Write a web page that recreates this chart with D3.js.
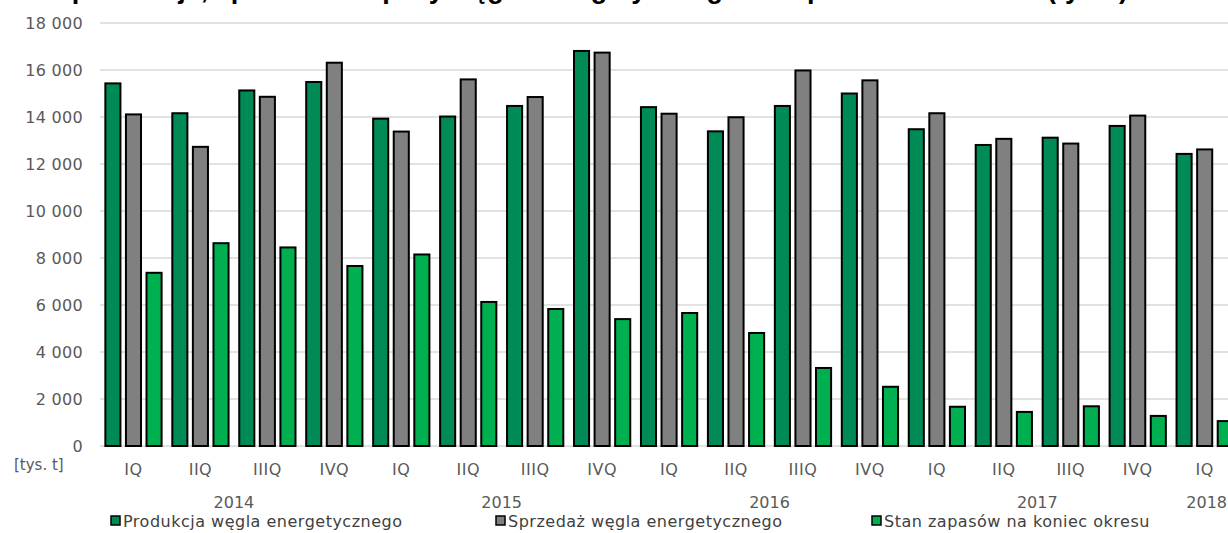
<!DOCTYPE html>
<html>
<head>
<meta charset="utf-8">
<script src="https://cdn.jsdelivr.net/npm/d3@7"></script>
<style>
  body { margin: 0; background: #fff; }
  svg { display: block; font-family: "DejaVu Sans", sans-serif; }
</style>
</head>
<body>
<div id="chart"></div>
<script>
// quarters shown on the axis (2014 IQ .. 2018 IQ)
const quarters = ['IQ','IIQ','IIIQ','IVQ','IQ','IIQ','IIIQ','IVQ','IQ','IIQ','IIIQ','IVQ','IQ','IIQ','IIIQ','IVQ','IQ'];
const years = ['2014','2015','2016','2017','2018'];
const quarterYear = [0,0,0,0,1,1,1,1,2,2,2,2,3,3,3,3,4];

const seriesNames = ['Produkcja węgla energetycznego','Sprzedaż węgla energetycznego','Stan zapasów na koniec okresu'];
const production = [15430,14160,15130,15490,13930,14020,14470,16810,14420,13390,14470,15000,13480,12810,13120,13620,12430];
const sales      = [14110,12730,14860,16310,13380,15600,14850,16740,14140,13990,15980,15560,14160,13070,12870,14060,12620];
const stock      = [7370,8630,8450,7660,8150,6130,5830,5400,5660,4810,3320,2520,1670,1450,1690,1280,1060];

const yTicks = [0,2000,4000,6000,8000,10000,12000,14000,16000,18000];
const colors = ['#008a55','#808080','#00b050'];

const width = 1228, height = 533;
const plot = {left: 100, top: 23, bottom: 446};

const svg = d3.select('#chart').append('svg')
  .attr('width', width)
  .attr('height', height);

// title is cut off by the crop of the original, only its descenders show
svg.append('text')
  .attr('x', 1128)
  .attr('y', -2)
  .attr('text-anchor', 'end')
  .style('font-family', '"Liberation Sans", Arial, sans-serif')
  .style('font-weight', 'bold')
  .style('font-size', '27px')
  .attr('fill', '#000')
  .text('Kwartalna produkcja, sprzedaż i zapasy węgla energetycznego w kopalniach w Polsce (tys. t)');

const y = d3.scaleLinear().domain([0, 18000]).range([plot.bottom, plot.top]);

const step = 66.95;
const x = d3.scaleBand()
  .domain(d3.range(quarters.length))
  .range([plot.left, plot.left + step * quarters.length])
  .paddingInner(0.13)
  .paddingOuter(0.065);

const xs = d3.scaleBand()
  .domain([0,1,2])
  .range([0, x.bandwidth()])
  .paddingInner(0.17);

// grid
svg.append('g')
  .selectAll('line')
  .data(yTicks)
  .join('line')
  .attr('x1', plot.left)
  .attr('x2', width)
  .attr('y1', d => y(d))
  .attr('y2', d => y(d))
  .attr('stroke', '#d9d9d9')
  .attr('stroke-width', 1.5);

// y labels
svg.append('g')
  .selectAll('text')
  .data(yTicks)
  .join('text')
  .attr('x', 83)
  .attr('y', d => y(d))
  .attr('dy', '0.36em')
  .attr('text-anchor', 'end')
  .attr('fill', '#595959')
  .style('font-size', '16px')
  .style('letter-spacing', '0.3px')
  .text(d => d3.format(',')(d).replace(/,/g, ' '));

svg.append('text')
  .attr('x', 14)
  .attr('y', 470)
  .attr('fill', '#595959')
  .style('font-size', '15px')
  .text('[tys. t]');

// bars
const series = [production, sales, stock];
series.forEach((vals, s) => {
  svg.append('g')
    .selectAll('rect')
    .data(vals)
    .join('rect')
    .attr('x', (d, i) => x(i) + xs(s) + 1)
    .attr('width', xs.bandwidth() - 2)
    .attr('y', d => y(d))
    .attr('height', d => y(0) - y(d))
    .attr('fill', colors[s])
    .attr('stroke', '#000')
    .attr('stroke-width', 2);
});

// quarter labels
svg.append('g')
  .selectAll('text')
  .data(quarters)
  .join('text')
  .attr('x', (d, i) => x(i) + x.bandwidth() / 2)
  .attr('y', 475)
  .attr('text-anchor', 'middle')
  .attr('fill', '#595959')
  .style('font-size', '16px')
  .style('letter-spacing', '0.5px')
  .text(d => d);

// year labels, centred under their quarters
svg.append('g')
  .selectAll('text')
  .data(years)
  .join('text')
  .attr('x', (d, yi) => {
    const idx = d3.range(quarters.length).filter(i => quarterYear[i] === yi);
    const cx = d3.mean(idx, i => x(i) + x.bandwidth() / 2);
    return yi === years.length - 1 ? width - 1 : cx;
  })
  .attr('y', 508)
  .attr('text-anchor', (d, yi) => yi === years.length - 1 ? 'end' : 'middle')
  .attr('fill', '#595959')
  .style('font-size', '16px')
  .text(d => d);

// legend
const legendX = [111, 496, 872];
const leg = svg.append('g')
  .selectAll('g')
  .data(seriesNames)
  .join('g')
  .attr('transform', (d, i) => `translate(${legendX[i]},516)`);

leg.append('rect')
  .attr('width', 9)
  .attr('height', 9)
  .attr('fill', (d, i) => colors[i])
  .attr('stroke', '#000')
  .attr('stroke-width', 1.5);

leg.append('text')
  .attr('x', 12)
  .attr('y', 11)
  .attr('fill', '#404040')
  .style('font-size', '16px')
  .style('letter-spacing', '0.5px')
  .text(d => d);
</script>
</body>
</html>
